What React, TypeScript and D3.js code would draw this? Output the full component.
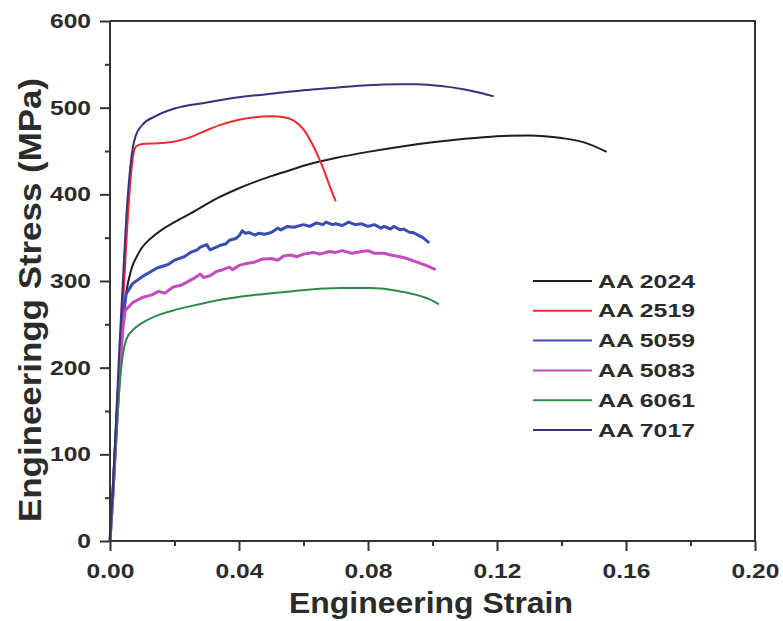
import * as d3 from 'd3';
import React, { useEffect, useRef } from 'react';

// strain (mm/mm), stress (MPa)
const aa2024 = [[0,0],[0.001,70],[0.002,140],[0.003,200],[0.004,250],[0.005,285],[0.0065,312],[0.009,333],[0.0146,355],[0.02,368],[0.025,378],[0.033,395],[0.04,407],[0.05,421],[0.056,428],[0.06,433],[0.07,442],[0.08,449],[0.09,455],[0.1,460],[0.11,464],[0.12,467],[0.13,468],[0.14,465],[0.147,460],[0.154,449]];
const aa2519 = [[0,0],[0.001,60],[0.002,130],[0.003,200],[0.004,270],[0.005,340],[0.006,400],[0.007,440],[0.008,455],[0.01,458],[0.015,459],[0.02,461],[0.025,466],[0.03,474],[0.035,481],[0.04,486],[0.045,489],[0.05,490],[0.054,489],[0.057,485],[0.06,475],[0.063,456],[0.066,431],[0.068,411],[0.07,392]];
const aa5059 = [[0,0],[0.001,60],[0.002,130],[0.003,200],[0.004,255],[0.005,285],[0.007,297],[0.01,305],[0.0146,315],[0.018,319],[0.02,324],[0.023,328],[0.025,333],[0.027,336],[0.028,339],[0.03,342],[0.031,336],[0.033,339],[0.034,341],[0.036,343],[0.037,347],[0.039,349],[0.04,352],[0.041,358],[0.042,355],[0.043,356],[0.045,353],[0.046,355],[0.048,354],[0.05,356],[0.052,361],[0.053,359],[0.055,363],[0.057,362],[0.06,365],[0.062,363],[0.064,367],[0.066,365],[0.067,368],[0.069,365],[0.07,366],[0.072,364],[0.074,368],[0.076,365],[0.078,366],[0.08,363],[0.082,365],[0.084,361],[0.085,363],[0.087,360],[0.088,363],[0.09,359],[0.091,360],[0.093,356],[0.094,356],[0.096,352],[0.097,350],[0.099,344]];
const aa5083 = [[0,0],[0.001,60],[0.002,130],[0.003,195],[0.004,245],[0.0047,266],[0.007,275],[0.01,281],[0.013,284],[0.015,288],[0.017,286],[0.0196,293],[0.022,295],[0.024,299],[0.026,303],[0.028,308],[0.029,304],[0.031,306],[0.033,311],[0.035,313],[0.037,316],[0.038,313],[0.04,318],[0.042,320],[0.045,322],[0.047,325],[0.05,326],[0.052,324],[0.054,329],[0.056,330],[0.058,328],[0.06,331],[0.063,333],[0.065,331],[0.068,334],[0.07,333],[0.072,335],[0.075,332],[0.078,334],[0.08,335],[0.082,332],[0.085,332],[0.087,330],[0.09,328],[0.092,326],[0.095,322],[0.098,318],[0.101,313]];
const aa6061 = [[0,0],[0.001,60],[0.002,125],[0.003,180],[0.004,215],[0.005,232],[0.007,243],[0.0093,250],[0.0146,260],[0.0196,266],[0.025,271],[0.035,279],[0.045,284],[0.056,288],[0.065,291],[0.072,292],[0.08,292],[0.085,291],[0.09,288],[0.095,284],[0.099,279],[0.102,273]];
const aa7017 = [[0,0],[0.001,70],[0.002,150],[0.003,230],[0.004,300],[0.005,370],[0.006,420],[0.007,452],[0.008,468],[0.01,480],[0.014,490],[0.02,499],[0.03,506],[0.04,512],[0.05,516],[0.06,520],[0.07,523],[0.08,526],[0.09,527],[0.095,527],[0.1,526],[0.105,524],[0.11,521],[0.115,517],[0.119,513]];

const seriesNames = ['AA 2024', 'AA 2519', 'AA 5059', 'AA 5083', 'AA 6061', 'AA 7017'];
const seriesData = [aa2024, aa2519, aa5059, aa5083, aa6061, aa7017];
const seriesColors = ['#1e1e1e', '#ec2a30', '#3a4db0', '#c24cbc', '#2e8a4c', '#34347c'];
const noisy = [false, false, true, true, false, false];

const xMajor = [0, 0.04, 0.08, 0.12, 0.16, 0.2];
const xMinor = [0.02, 0.06, 0.1, 0.14, 0.18];
const yMajor = [0, 100, 200, 300, 400, 500, 600];
const yMinor = [50, 150, 250, 350, 450, 550];

export default function App() {
    const ref = useRef<SVGSVGElement>(null);

    useEffect(() => {
        const svg = d3.select(ref.current);
        svg.selectAll('*').remove();

        const x = d3.scaleLinear().domain([0, 0.2]).range([110, 755]);
        const y = d3.scaleLinear().domain([0, 600]).range([541, 21]);
        const axisColor = '#333';
        const textColor = '#2b2b2b';

        // curves
        const line = d3.line<number[]>()
            .x(d => x(d[0]))
            .y(d => y(d[1]));

        seriesData.forEach((s, i) => {
            svg.append('path')
                .datum(s)
                .attr('d', line.curve(noisy[i] ? d3.curveLinear : d3.curveMonotoneX)(s) as string)
                .attr('fill', 'none')
                .attr('stroke', seriesColors[i])
                .attr('stroke-width', noisy[i] ? 3 : 2)
                .attr('stroke-linejoin', 'round');
        });

        // frame
        svg.append('path')
            .attr('d', `M${x(0)},${y(600)}H${x(0.2)}V${y(0)}`)
            .attr('fill', 'none')
            .attr('stroke', axisColor)
            .attr('stroke-width', 2);

        const widen = (sel: any) => sel
            .attr('fill', textColor)
            .style('font-family', 'Liberation Sans, Arial, sans-serif')
            .style('font-weight', 'bold')
            .style('font-size', '20px')
            .attr('lengthAdjust', 'spacingAndGlyphs')
            .each(function () {
                const t = this as SVGTextElement;
                if (t.textContent) t.setAttribute('textLength', String(t.getComputedTextLength() * 1.23));
            });

        // y axis
        const gy = svg.append('g').attr('transform', `translate(${x(0)},0)`);
        gy.call(d3.axisLeft(y).tickValues(yMajor).tickSize(10).tickPadding(9).tickFormat(d3.format('d')));
        gy.append('g').call(d3.axisLeft(y).tickValues(yMinor).tickSize(5).tickFormat(() => ''));
        gy.selectAll('path.domain').remove();
        gy.selectAll('line').attr('stroke', axisColor).attr('stroke-width', 2);
        widen(gy.selectAll('text'));

        // x axis
        const gx = svg.append('g').attr('transform', `translate(0,${y(0)})`);
        gx.call(d3.axisBottom(x).tickValues(xMajor).tickSize(10).tickPadding(13).tickFormat(d3.format('.2f')));
        gx.append('g').call(d3.axisBottom(x).tickValues(xMinor).tickSize(5).tickFormat(() => ''));
        gx.selectAll('path.domain').remove();
        gx.selectAll('line').attr('stroke', axisColor).attr('stroke-width', 2);
        widen(gx.selectAll('text'));

        // axis lines drawn over
        svg.append('path')
            .attr('d', `M${x(0)},${y(600)}V${y(0)}H${x(0.2)}`)
            .attr('fill', 'none')
            .attr('stroke', axisColor)
            .attr('stroke-width', 2);

        // axis titles
        svg.append('text')
            .attr('x', 431)
            .attr('y', 613)
            .attr('text-anchor', 'middle')
            .attr('textLength', 284)
            .attr('lengthAdjust', 'spacingAndGlyphs')
            .attr('fill', textColor)
            .style('font-family', 'Liberation Sans, Arial, sans-serif')
            .style('font-weight', 'bold')
            .style('font-size', '30px')
            .text('Engineering Strain');

        svg.append('text')
            .attr('transform', 'translate(41,300) rotate(-90)')
            .attr('text-anchor', 'middle')
            .attr('textLength', 444)
            .attr('lengthAdjust', 'spacingAndGlyphs')
            .attr('fill', textColor)
            .style('font-family', 'Liberation Sans, Arial, sans-serif')
            .style('font-weight', 'bold')
            .style('font-size', '31px')
            .text('Engineeringg Stress (MPa)');

        // legend
        const lg = svg.append('g');
        seriesNames.forEach((name, i) => {
            const cy = 281 + i * 29.8;
            lg.append('line')
                .attr('x1', 533).attr('x2', 592)
                .attr('y1', cy).attr('y2', cy)
                .attr('stroke', seriesColors[i])
                .attr('stroke-width', 2);
            lg.append('text')
                .attr('x', 598)
                .attr('y', cy + 6.5)
                .attr('textLength', 97)
                .attr('lengthAdjust', 'spacingAndGlyphs')
                .attr('fill', textColor)
                .style('font-family', 'Liberation Sans, Arial, sans-serif')
                .style('font-weight', 'bold')
                .style('font-size', '18px')
                .text(name);
        });
    }, []);

    return (
        <svg ref={ref} width={783} height={621}
            style={{ position: 'absolute', left: 0, top: 0, background: '#fff' }}></svg>
    );
}
